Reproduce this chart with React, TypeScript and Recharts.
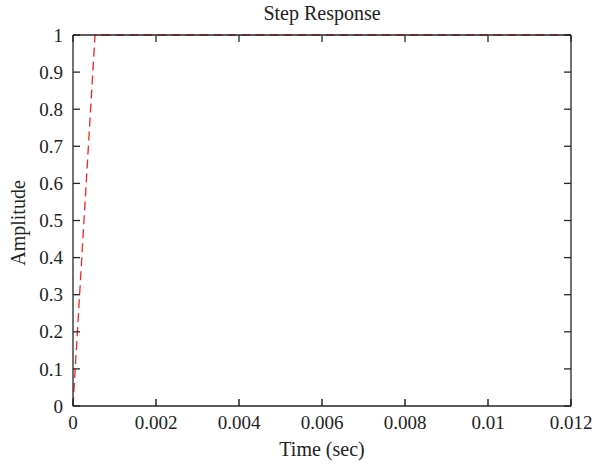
import { LineChart, Line, XAxis, YAxis } from "recharts";

const timeValues = [0, 0.00053, 0.012];
const amplitudeValues = [0, 1, 1];
const timeTicks = [0, 0.002, 0.004, 0.006, 0.008, 0.01, 0.012];
const amplitudeTicks = [0, 0.1, 0.2, 0.3, 0.4, 0.5, 0.6, 0.7, 0.8, 0.9, 1];

const data = timeValues.map((t, i) => ({ t, y: amplitudeValues[i] }));

const FONT = "'Liberation Serif', 'Times New Roman', serif";
const INK = "#222";
const AXIS = "#262626";
const TICK = 7;
const TW = 1.3;

const LeftTick = (p: any) => (
  <g>
    <line x1={p.x + 10} x2={p.x + 10 + TICK} y1={p.y} y2={p.y} stroke={AXIS} strokeWidth={TW} />
    <text x={p.x} y={p.y} dy="0.35em" textAnchor="end" fontFamily={FONT} fontSize={19} fill={INK}>
      {String(p.payload.value)}
    </text>
  </g>
);

const BottomTick = (p: any) => (
  <g>
    <line x1={p.x} x2={p.x} y1={p.y - 10} y2={p.y - 10 - TICK} stroke={AXIS} strokeWidth={1.5} />
    <text x={p.x} y={p.y} dy="0.71em" textAnchor="middle" fontFamily={FONT} fontSize={19} fill={INK}>
      {String(p.payload.value)}
    </text>
  </g>
);

const RightTick = (p: any) => (
  <line x1={p.x} x2={p.x - TICK} y1={p.y} y2={p.y} stroke={AXIS} strokeWidth={TW} />
);

const TopTick = (p: any) => (
  <line x1={p.x} x2={p.x} y1={p.y} y2={p.y + TICK} stroke={AXIS} strokeWidth={TW} />
);

const axisLine = { stroke: AXIS, strokeWidth: TW };

export default function App() {
  return (
    <div style={{ position: "absolute", left: 0, top: 0, width: 595, height: 468, background: "#fff" }}>
      <div
        style={{
          position: "absolute", left: 0, width: 595, top: 2, textAlign: "center",
          fontFamily: FONT, fontSize: 20, color: INK, paddingLeft: 49, boxSizing: "border-box",
        }}
      >
        Step Response
      </div>
      <div
        style={{
          position: "absolute", left: 0, width: 595, top: 438, textAlign: "center",
          fontFamily: FONT, fontSize: 20, color: INK, paddingLeft: 49, boxSizing: "border-box",
        }}
      >
        Time (sec)
      </div>
      <div
        style={{
          position: "absolute", left: 18, top: 223, transform: "translate(-50%, -50%) rotate(-90deg)",
          fontFamily: FONT, fontSize: 20, color: INK, whiteSpace: "nowrap",
        }}
      >
        Amplitude
      </div>
      <div style={{ position: "absolute", left: 0, top: 0 }}>
        <LineChart width={595} height={468} data={data} margin={{ top: 34, right: 23, left: 13, bottom: 32 }}>
          <XAxis
            xAxisId="b"
            dataKey="t"
            type="number"
            domain={[0, 0.012]}
            ticks={timeTicks}
            height={30}
            tickSize={0}
            tickMargin={10}
            tickLine={false}
            tick={BottomTick}
            axisLine={axisLine}
            interval={0}
          />
          <XAxis
            xAxisId="t"
            dataKey="t"
            orientation="top"
            type="number"
            domain={[0, 0.012]}
            ticks={timeTicks}
            height={1}
            tickSize={0}
            tickMargin={0}
            tickLine={false}
            tick={TopTick}
            axisLine={axisLine}
            interval={0}
          />
          <YAxis
            yAxisId="l"
            type="number"
            domain={[0, 1]}
            ticks={amplitudeTicks}
            width={60}
            tickSize={0}
            tickMargin={10}
            tickLine={false}
            tick={LeftTick}
            axisLine={axisLine}
            interval={0}
          />
          <YAxis
            yAxisId="r"
            orientation="right"
            type="number"
            domain={[0, 1]}
            ticks={amplitudeTicks}
            width={1}
            tickSize={0}
            tickMargin={0}
            tickLine={false}
            tick={RightTick}
            axisLine={axisLine}
            interval={0}
          />
          {/* invisible series so the top and right axes get drawn (box frame) */}
          <Line
            xAxisId="t"
            yAxisId="r"
            dataKey="y"
            stroke="none"
            dot={false}
            activeDot={false}
            legendType="none"
            isAnimationActive={false}
          />
          <Line
            xAxisId="b"
            yAxisId="l"
            type="linear"
            dataKey="y"
            stroke="#ff2020"
            strokeWidth={1.3}
            strokeDasharray="9 5"
            dot={false}
            isAnimationActive={false}
          />
        </LineChart>
      </div>
    </div>
  );
}
